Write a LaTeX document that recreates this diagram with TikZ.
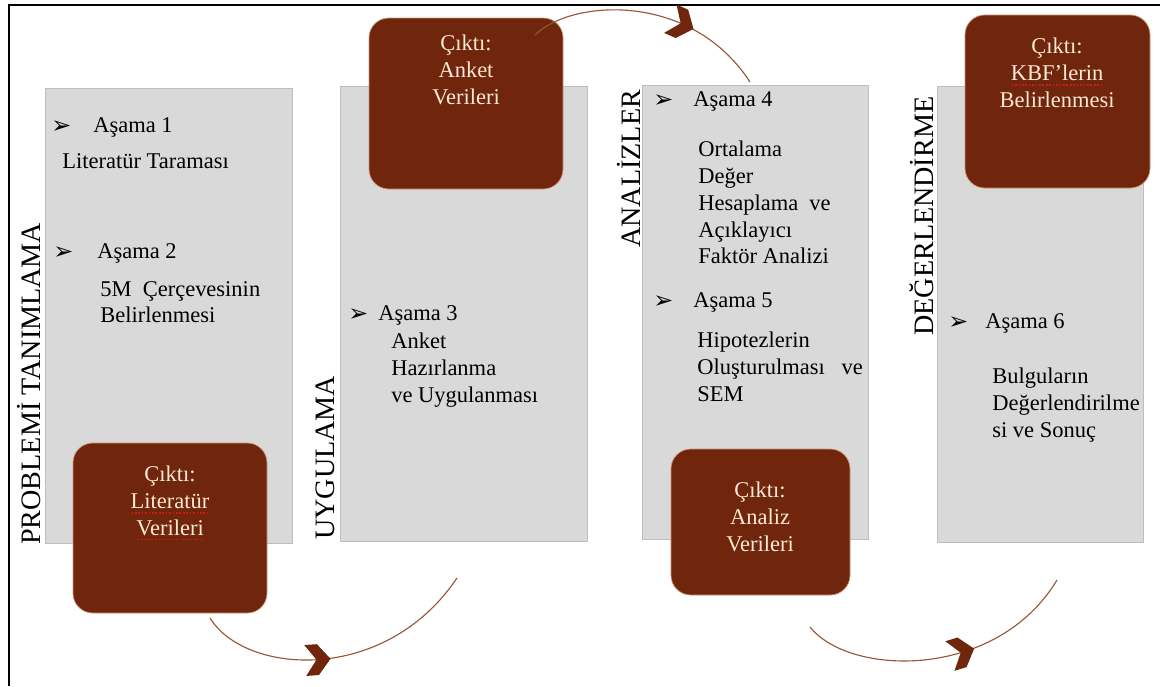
\documentclass[tikz,border=0pt]{standalone}
\usepackage{fontspec}
\setmainfont{Liberation Serif}
\newfontfamily\dingfont{DejaVu Sans}
\usepackage{xcolor}
\usepackage{tikz}
\usetikzlibrary{arrows.meta,positioning,fit,decorations.markings}

\definecolor{panel}{RGB}{217,217,217}
\definecolor{paneledge}{RGB}{190,190,190}
\definecolor{outfill}{RGB}{112,38,12}
\definecolor{outedge}{RGB}{205,150,120}
\definecolor{outtext}{RGB}{252,232,212}
\definecolor{flowline}{RGB}{150,85,55}
\definecolor{splred}{RGB}{205,25,25}

\newsavebox\splbox
\newcommand{\splw}[1]{\sbox\splbox{#1}\rlap{\color{splred}\raisebox{-3.5pt}{\hbox to \wd\splbox{\xleaders\hbox to 2.4pt{\hss\rule{1.2pt}{0.8pt}\hss}\hfill}}}\usebox\splbox}
\newcommand{\bltarrow}{{\dingfont\fontsize{17pt}{17pt}\selectfont ➢}}

\begin{document}
\begin{tikzpicture}[x=0.025cm, y=-0.025cm,
  panel/.style={fill=panel, draw=paneledge, line width=0.4pt, inner sep=0pt},
  outbox/.style={fill=outfill, draw=outedge, line width=0.5pt, rounded corners=14pt, inner sep=0pt},
  outtx/.style={text=outtext, align=center, inner sep=0pt, anchor=north, font=\fontsize{16pt}{19pt}\selectfont},
  bl/.style={anchor=west, inner sep=0pt},
  hd/.style={anchor=west, inner sep=0pt, font=\fontsize{16pt}{19pt}\selectfont},
  tx/.style={anchor=north west, align=left, inner sep=0pt, font=\fontsize{16pt}{19pt}\selectfont},
  phase/.style={rotate=90, anchor=base west, inner sep=0pt, font=\fontsize{20pt}{24pt}\selectfont},
  flow/.style={draw=flowline, line width=0.8pt},
  chev/.style={postaction={decorate, decoration={markings, mark=at position #1 with {\fill[outfill] (-9pt,11pt) -- (0pt,11pt) -- (9pt,0pt) -- (0pt,-11pt) -- (-9pt,-11pt) -- (-1pt,0pt) -- cycle;}}}}]
\useasboundingbox (0,0) rectangle (1160,686);
\draw[line width=1.5pt] (9,686) -- (9,5) -- (1160,5);

\node[panel, fit={(45,88) (292,543)}] (g1) {};
\node[panel, fit={(340,86) (587,541)}] (g2) {};
\node[panel, fit={(642,85) (868,539)}] (g3) {};
\node[panel, fit={(937,86) (1143,542)}] (g4) {};

\node[phase] (p1) at (40,545) {PROBLEMİ TANIMLAMA};
\node[phase] (p2) at (334,540) {UYGULAMA};
\node[phase] (p3) at (640,248) {ANALİZLER};
\node[phase] (p4) at (933,336) {DEĞERLENDİRME};

\node[bl] (b1) at (51,127) {\bltarrow};
\node[hd] (h1) at (93,127) {Aşama 1};
\node[tx] (t1) at (62,153) {Literatür Taraması};
\node[bl] (b2) at (53,253) {\bltarrow};
\node[hd] (h2) at (97,253) {Aşama 2};
\node[tx] (t2) at (100,281) {5M\ \ Çerçevesinin\\Belirlenmesi};

\node[bl] (b3) at (348,315) {\bltarrow};
\node[hd] (h3) at (378,315) {Aşama 3};
\node[tx] (t3) at (391,333) {Anket\\Hazırlanma\\ve Uygulanması};

\node[bl] (b4) at (653,101) {\bltarrow};
\node[hd] (h4) at (693,101) {Aşama 4};
\node[tx] (t4) at (698,141) {Ortalama\\Değer\\Hesaplama\ \ ve\\Açıklayıcı\\Faktör Analizi};
\node[bl] (b5) at (653,302) {\bltarrow};
\node[hd] (h5) at (693,302) {Aşama 5};
\node[tx] (t5) at (697,332) {Hipotezlerin\\Oluşturulması\hspace{0.42cm}ve\\SEM};

\node[bl] (b6) at (948,323) {\bltarrow};
\node[hd] (h6) at (985,323) {Aşama 6};
\node[tx] (t6) at (992,368) {Bulguların\\Değerlendirilme\\si ve Sonuç};

\node[outbox, fit={(73,443) (267,613)}] (o1) {};
\node[outtx] (o1t) at (170,466) {Çıktı:\\\splw{Literatür}\\\splw{Verileri}};
\node[outbox, fit={(369,18) (563,189)}] (o2) {};
\node[outtx] (o2t) at (466,35) {Çıktı:\\Anket\\Verileri};
\node[outbox, fit={(671,449) (850,595)}] (o3) {};
\node[outtx] (o3t) at (760,482) {Çıktı:\\Analiz\\Verileri};
\node[outbox, fit={(965,15) (1150,188)}] (o4) {};
\node[outtx] (o4t) at (1057,38) {Çıktı:\\\splw{KBF’lerin}\\Belirlenmesi};

\coordinate (a1s) at (210,618);
\coordinate (a1e) at (457,578);
\coordinate (a2s) at (535,35);
\coordinate (a2e) at (750,82);
\coordinate (a3s) at (810,627);
\coordinate (a3e) at (1057,580);
\draw[flow, chev=0.42] (a1s) .. controls +(35,57) and +(-72,107) .. (a1e);
\draw[flow, chev=0.63] (a2s) .. controls +(35,-35) and +(-60,-92) .. (a2e);
\draw[flow, chev=0.57] (a3s) .. controls +(40,50) and +(-60,100) .. (a3e);
\end{tikzpicture}
\end{document}
